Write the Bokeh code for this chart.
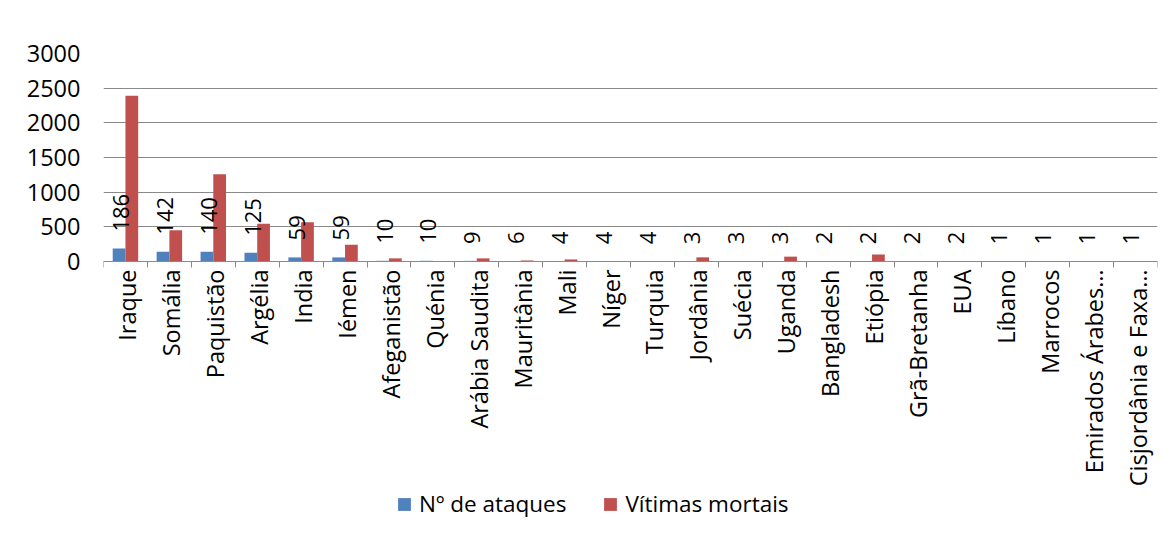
import math
import numpy as np
from bokeh.plotting import figure
from bokeh.models import (ColumnDataSource, FixedTicker, Legend, LegendItem,
                          LabelSet, Range1d)
from bokeh.core.properties import value
from bokeh.embed import file_html
from bokeh.resources import INLINE

countries = ["Iraque", "Somália", "Paquistão", "Argélia", "India", "Iémen",
             "Afeganistão", "Quénia", "Arábia Saudita", "Mauritânia", "Mali",
             "Níger", "Turquia", "Jordânia", "Suécia", "Uganda", "Bangladesh",
             "Etiópia", "Grã-Bretanha", "EUA", "Líbano", "Marrocos",
             "Emirados Árabes…", "Cisjordânia e Faxa…"]
attacks = [186, 142, 140, 125, 59, 59, 10, 10, 9, 6, 4, 4, 4, 3, 3, 3,
           2, 2, 2, 2, 1, 1, 1, 1]
deaths = [2390, 450, 1260, 546, 565, 242, 45, 4, 45, 15, 30, 4, 5, 60, 3, 70,
          2, 100, 3, 3, 1, 1, 2, 1]
yticks = [0, 500, 1000, 1500, 2000, 2500, 3000]

FONT = "Open Sans"
BLUE = "#4F81BD"
RED = "#C0504D"
GRID = "#8A8A8A"

# layout: value area 208 px tall; frame extended below to hold labels+legend
VAL_H = 208
FRAME_H = 470
YMAX = 3000
ymin = YMAX - YMAX * FRAME_H / VAL_H

n = len(countries)
idx = np.arange(n)
src = ColumnDataSource(dict(
    xb=idx - 0.145, xr=idx + 0.145, xc=idx, zero=[0] * n,
    attacks=attacks, deaths=deaths, names=countries,
    lab=[str(a) for a in attacks],
))

p = figure(frame_width=1054, frame_height=FRAME_H, output_backend="svg",
           toolbar_location=None,
           x_range=Range1d(-0.5, n - 0.5), y_range=Range1d(ymin, YMAX),
           min_border_left=103, min_border_right=8, min_border_top=53,
           min_border_bottom=0)
p.outline_line_color = None
p.background_fill_color = "white"
p.border_fill_color = "white"

r1 = p.vbar(x="xb", top="attacks", bottom=0, width=0.29, source=src,
            fill_color=BLUE, line_color=None)
r2 = p.vbar(x="xr", top="deaths", bottom=0, width=0.29, source=src,
            fill_color=RED, line_color=None)

labels = LabelSet(x="xb", y="attacks", text="lab", source=src,
                  angle=math.pi / 2, x_offset=2, y_offset=17,
                  text_align="left", text_baseline="middle",
                  text_font=value(FONT), text_font_size=value("22px"),
                  text_color="black")
p.add_layout(labels)

cat_labels = LabelSet(x="xc", y="zero", text="names", source=src,
                      angle=math.pi / 2, x_offset=2, y_offset=-8,
                      text_align="right", text_baseline="middle",
                      text_font=value(FONT), text_font_size=value("23.5px"),
                      text_color="black")
p.add_layout(cat_labels)

# y axis
p.yaxis.ticker = FixedTicker(ticks=yticks)
p.yaxis.axis_line_color = None
p.yaxis.major_tick_line_color = None
p.yaxis.minor_tick_line_color = None
p.yaxis.major_tick_out = 0
p.yaxis.major_tick_in = 0
p.yaxis.major_label_standoff = 23
p.yaxis.major_label_text_font = FONT
p.yaxis.major_label_text_font_size = "23.5px"
p.yaxis.major_label_text_color = "black"
p.ygrid.ticker = FixedTicker(ticks=yticks)
p.ygrid.grid_line_color = GRID
p.xgrid.grid_line_color = None

# x axis drawn at y = 0, tick marks at category boundaries
p.xaxis.fixed_location = 0
p.xaxis.ticker = FixedTicker(ticks=list(range(n)),
                             minor_ticks=[i - 0.5 for i in range(n + 1)])
p.xaxis.major_label_overrides = {i: "" for i in range(n)}
p.xaxis.major_label_text_font_size = "1px"
p.xaxis.major_label_standoff = 0
p.xaxis.major_tick_line_color = None
p.xaxis.major_tick_out = 0
p.xaxis.major_tick_in = 0
p.xaxis.minor_tick_line_color = GRID
p.xaxis.minor_tick_out = 6
p.xaxis.minor_tick_in = 0
p.xaxis.axis_line_color = GRID

legend = Legend(items=[LegendItem(label="Nº de ataques", renderers=[r1]),
                       LegendItem(label="Vítimas mortais", renderers=[r2])],
                orientation="horizontal", location=(293, 4),
                glyph_width=16, glyph_height=16, label_standoff=7, spacing=36,
                padding=0, margin=0, border_line_color=None,
                background_fill_alpha=0,
                label_text_font=FONT, label_text_font_size="22.5px",
                label_text_color="black", label_height=16)
p.add_layout(legend, "center")

open("out.html", "w").write(file_html(p, INLINE))
